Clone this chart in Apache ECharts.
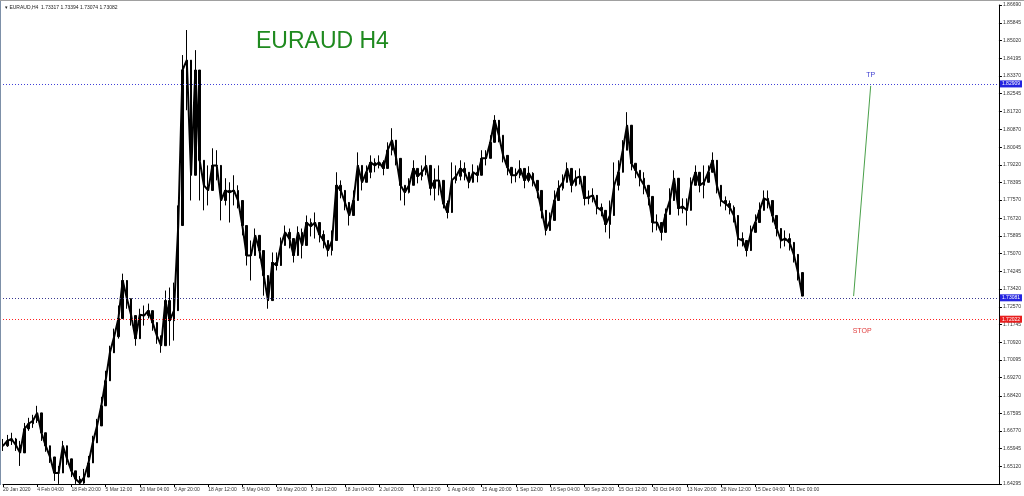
<!DOCTYPE html>
<html><head><meta charset="utf-8">
<script src="https://cdn.jsdelivr.net/npm/echarts@6/dist/echarts.min.js"></script>
<style>html,body{margin:0;padding:0;background:#fff}#c{width:1024px;height:496px}</style>
</head><body><div id="c"></div>
<script>
const symbolName = 'EURAUD,H4';
const lastQuote = ['1.73317', '1.73394', '1.73074', '1.73082'];
const chartTitle = 'EURAUD H4';

const xTickLabels = ['20 Jan 2020','4 Feb 04:00','18 Feb 20:00','5 Mar 12:00','20 Mar 04:00','3 Apr 20:00',
  '18 Apr 12:00','5 May 04:00','19 May 20:00','3 Jun 12:00','18 Jun 04:00','2 Jul 20:00','17 Jul 12:00',
  '1 Aug 04:00','15 Aug 20:00','1 Sep 12:00','16 Sep 04:00','30 Sep 20:00','15 Oct 12:00','30 Oct 04:00',
  '13 Nov 20:00','28 Nov 12:00','15 Dec 04:00','31 Dec 00:00'];
const barsPerLabel = 8;
const totalBars = 234;

const yTickLabels = [1.64295,1.65120,1.65945,1.66770,1.67595,1.68420,1.69270,1.70095,1.70920,1.71745,
  1.72570,1.73420,1.74245,1.75070,1.75895,1.76720,1.77570,1.78395,1.79220,1.80045,1.80870,1.81720,
  1.82545,1.83370,1.84195,1.85020,1.85845,1.86690];
const yMin = 1.64295, yMax = 1.86690;

const closes = [
1.6608,1.6631,1.6640,1.6612,1.6575,1.6687,1.6711,1.6725,1.6762,1.6669,
1.6608,1.6556,1.6481,1.6481,1.6608,1.6547,1.6491,1.6453,1.6434,1.6462,
1.6528,1.6622,1.6701,1.6795,1.6912,1.7043,1.7118,1.7203,1.7381,1.7296,
1.7217,1.7109,1.7221,1.7217,1.7240,1.7184,1.7123,1.7076,1.7287,1.7193,
1.7240,1.7638,1.8365,1.8411,1.7873,1.8365,1.7943,1.7826,1.7802,1.7919,
1.7919,1.7755,1.7802,1.7793,1.7802,1.7755,1.7638,1.7498,1.7498,1.7592,
1.7521,1.7404,1.7287,1.7465,1.7451,1.7545,1.7606,1.7577,1.7498,1.7606,
1.7545,1.7652,1.7634,1.7652,1.7596,1.7568,1.7521,1.7568,1.7826,1.7802,
1.7746,1.7685,1.7755,1.7919,1.7840,1.7887,1.7933,1.7919,1.7933,1.7905,
1.7990,1.8037,1.7952,1.7826,1.7793,1.7826,1.7905,1.7868,1.7887,1.7919,
1.7812,1.7849,1.7849,1.7741,1.7699,1.7849,1.7868,1.7905,1.7887,1.7840,
1.7887,1.7873,1.7952,1.7952,1.8027,1.8130,1.8060,1.7966,1.7910,1.7873,
1.7873,1.7905,1.7849,1.7882,1.7849,1.7802,1.7709,1.7615,1.7662,1.7755,
1.7812,1.7840,1.7905,1.7826,1.7859,1.7868,1.7765,1.7770,1.7779,1.7723,
1.7709,1.7643,1.7685,1.7826,1.7887,1.7990,1.8107,1.7929,1.7896,1.7859,
1.7826,1.7774,1.7652,1.7652,1.7606,1.7690,1.7755,1.7859,1.7718,1.7727,
1.7709,1.7826,1.7887,1.7826,1.7840,1.7887,1.7943,1.7826,1.7755,1.7741,
1.7723,1.7685,1.7577,1.7568,1.7521,1.7606,1.7652,1.7709,1.7765,1.7755,
1.7685,1.7624,1.7568,1.7577,1.7559,1.7503,1.7418,1.73082];

const highs = [
1.6640,1.6659,1.6669,1.6645,1.6631,1.6715,1.6739,1.6753,1.6795,1.6734,
1.6650,1.6594,1.6528,1.6514,1.6631,1.6594,1.6528,1.6491,1.6467,1.6500,
1.6561,1.6655,1.6734,1.6837,1.6959,1.7076,1.7156,1.7264,1.7413,1.7343,
1.7273,1.7170,1.7249,1.7264,1.7273,1.7231,1.7170,1.7123,1.7334,1.7348,
1.7371,1.7732,1.8435,1.8552,1.8224,1.8458,1.8037,1.7943,1.7919,1.7999,
1.7990,1.7826,1.7859,1.7840,1.7873,1.7826,1.7709,1.7568,1.7568,1.7624,
1.7568,1.7474,1.7357,1.7512,1.7512,1.7582,1.7638,1.7624,1.7545,1.7634,
1.7624,1.7685,1.7671,1.7699,1.7638,1.7615,1.7568,1.7615,1.7887,1.7849,
1.7793,1.7732,1.7802,1.7980,1.7919,1.7919,1.7966,1.7952,1.7966,1.7943,
1.8027,1.8093,1.7990,1.7905,1.7826,1.7859,1.7943,1.7905,1.7919,1.7966,
1.7873,1.7905,1.7919,1.7779,1.7755,1.7933,1.7919,1.7943,1.7933,1.7887,
1.7924,1.7919,1.7990,1.7990,1.8060,1.8154,1.8093,1.8060,1.7952,1.7910,
1.7905,1.7943,1.7887,1.7915,1.7887,1.7840,1.7755,1.7671,1.7699,1.7802,
1.7849,1.7877,1.7933,1.7873,1.7896,1.7905,1.7826,1.7802,1.7812,1.7765,
1.7741,1.7690,1.7755,1.7933,1.7943,1.8037,1.8168,1.7990,1.7929,1.7896,
1.7887,1.7812,1.7709,1.7690,1.7652,1.7718,1.7812,1.7896,1.7779,1.7765,
1.7765,1.7863,1.7919,1.7873,1.7919,1.7919,1.7980,1.7887,1.7793,1.7774,
1.7755,1.7732,1.7638,1.7606,1.7568,1.7638,1.7690,1.7746,1.7802,1.7802,
1.7732,1.7662,1.7615,1.7615,1.7601,1.7545,1.7474,1.7381];

const lows = [
1.6584,1.6603,1.6612,1.6584,1.6514,1.6594,1.6678,1.6692,1.6715,1.6631,
1.6580,1.6528,1.6444,1.6430,1.6491,1.6519,1.6462,1.6430,1.6430,1.6430,
1.6491,1.6575,1.6655,1.6748,1.6856,1.6982,1.7062,1.7109,1.7287,1.7249,
1.7170,1.7076,1.7170,1.7170,1.7203,1.7146,1.7085,1.7043,1.7100,1.7076,
1.7100,1.7498,1.8154,1.8177,1.7755,1.8083,1.7755,1.7709,1.7732,1.7826,
1.7849,1.7662,1.7732,1.7652,1.7732,1.7718,1.7592,1.7451,1.7381,1.7521,
1.7484,1.7310,1.7249,1.7357,1.7428,1.7484,1.7559,1.7531,1.7465,1.7559,
1.7484,1.7606,1.7587,1.7577,1.7559,1.7531,1.7493,1.7498,1.7685,1.7765,
1.7709,1.7638,1.7685,1.7826,1.7802,1.7840,1.7859,1.7887,1.7905,1.7873,
1.7919,1.7966,1.7919,1.7755,1.7732,1.7788,1.7826,1.7835,1.7849,1.7873,
1.7779,1.7755,1.7779,1.7718,1.7671,1.7732,1.7835,1.7849,1.7849,1.7812,
1.7849,1.7840,1.7896,1.7919,1.7952,1.8060,1.8027,1.7933,1.7873,1.7835,
1.7840,1.7859,1.7812,1.7840,1.7821,1.7765,1.7671,1.7592,1.7624,1.7709,
1.7774,1.7802,1.7859,1.7793,1.7821,1.7830,1.7732,1.7737,1.7746,1.7690,
1.7681,1.7606,1.7577,1.7755,1.7802,1.7919,1.7990,1.7896,1.7859,1.7821,
1.7784,1.7732,1.7606,1.7615,1.7568,1.7652,1.7699,1.7802,1.7685,1.7695,
1.7638,1.7779,1.7840,1.7793,1.7765,1.7849,1.7896,1.7788,1.7727,1.7709,
1.7690,1.7652,1.7540,1.7540,1.7493,1.7545,1.7615,1.7676,1.7723,1.7718,
1.7652,1.7587,1.7531,1.7540,1.7521,1.7465,1.7381,1.73074];

const tpLevel = 1.82909;
const entryLevel = 1.73081;
const stopLevel = 1.72022;
const tradeBars = [199, 203];     // entry bar, target bar
const stopLabelBar = 201;

// ---- build library structures ----
const categories = [];
for (let i = 0; i < totalBars; i++) categories.push(String(i));
const ohlc = closes.map((c, i) => [i > 0 ? closes[i - 1] : c, c, lows[i], highs[i]]);
const labelAt = (idx) => (idx % barsPerLabel === 0 && idx / barsPerLabel < xTickLabels.length) ? xTickLabels[idx / barsPerLabel] : '';

const chart = echarts.init(document.getElementById('c'), null, {renderer: 'canvas'});
const smallFont = 'Liberation Sans, Arial, sans-serif';

function levelSeries(level, lineColor, boxColor) {
  return {
    type: 'line',
    data: [],
    symbol: 'none',
    color: lineColor,
    z: 2,
    markLine: {
      silent: true, symbol: ['none', 'none'], animation: false,
      lineStyle: {color: lineColor, type: [1, 2], width: 1, opacity: 1},
      label: {show: true, position: 'end', formatter: level.toFixed(5), color: '#fff', backgroundColor: boxColor,
              fontSize: 5, padding: [1, 2], distance: 1, fontFamily: smallFont},
      emphasis: {disabled: true},
      data: [{yAxis: level, lineStyle: {color: lineColor}}]
    }
  };
}

chart.setOption({
  animation: false,
  backgroundColor: '#ffffff',
  grid: {left: 3, right: 24, top: 5, bottom: 12, containLabel: false},
  xAxis: {
    type: 'category',
    data: categories,
    boundaryGap: false,
    axisLine: {show: true, lineStyle: {color: '#000', width: 1}},
    axisTick: {show: true, length: 3, lineStyle: {color: '#000'}, interval: (idx) => labelAt(idx) !== ''},
    axisLabel: {
      show: true, interval: (idx) => labelAt(idx) !== '', formatter: (v, idx) => labelAt(+v),
      align: 'left', margin: 3, fontSize: 5, color: '#333', fontFamily: smallFont,
      showMaxLabel: true, hideOverlap: false
    },
    splitLine: {show: false}
  },
  yAxis: {
    type: 'value',
    position: 'right',
    min: yMin, max: yMax,
    scale: true,
    axisLine: {show: true, lineStyle: {color: '#000', width: 1}},
    axisTick: {show: true, length: 3, customValues: yTickLabels, lineStyle: {color: '#000'}},
    axisLabel: {
      show: true, customValues: yTickLabels, formatter: (v) => Number(v).toFixed(5),
      margin: 4, fontSize: 5, color: '#333', fontFamily: smallFont
    },
    splitLine: {show: false}
  },
  series: [
    levelSeries(tpLevel, '#4040d8', '#2424e0'),
    levelSeries(entryLevel, '#383890', '#2424e0'),
    levelSeries(stopLevel, '#ff2020', '#e81e1e'),
    {
      type: 'candlestick',
      data: ohlc,
      barWidth: 2,
      itemStyle: {color: '#000', color0: '#000', borderColor: '#000', borderColor0: '#000', borderWidth: 1},
      z: 3
    },
    {
      type: 'line',
      data: closes,
      symbol: 'none',
      z: 4,
      lineStyle: {color: '#000', width: 2}
    },
    {
      type: 'line',
      data: [[tradeBars[0], entryLevel], [tradeBars[1], tpLevel]],
      symbol: 'none',
      lineStyle: {color: '#4aa04a', width: 1},
      markPoint: {
        symbol: 'circle', symbolSize: 0, silent: true,
        data: [
          {coord: [tradeBars[1], tpLevel], label: {show: true, formatter: 'TP', offset: [0, -11], color: '#3c3cd0', fontSize: 7, fontFamily: smallFont}},
          {coord: [stopLabelBar, stopLevel], label: {show: true, formatter: 'STOP', offset: [0, 12], color: '#e03c3c', fontSize: 7, fontFamily: smallFont}}
        ]
      }
    }
  ],
  graphic: [
    {type: 'line', shape: {x1: 0.5, y1: 0, x2: 0.5, y2: 485}, style: {stroke: '#7d90a8', lineWidth: 1}, silent: true},
    {type: 'line', shape: {x1: 0, y1: 0.5, x2: 1024, y2: 0.5}, style: {stroke: '#a0a0a0', lineWidth: 1}, silent: true},
    {type: 'text', left: 5, top: 5, style: {text: '\u25BE ' + symbolName + '  ' + lastQuote.join(' '), font: '5px Liberation Sans, Arial, sans-serif', fill: '#222'}, silent: true},
    {type: 'text', left: 256, top: 30, style: {text: chartTitle, font: '23px Liberation Sans, Arial, sans-serif', fill: '#1f8a1f'}, silent: true}
  ]
});
</script>
</body></html>
